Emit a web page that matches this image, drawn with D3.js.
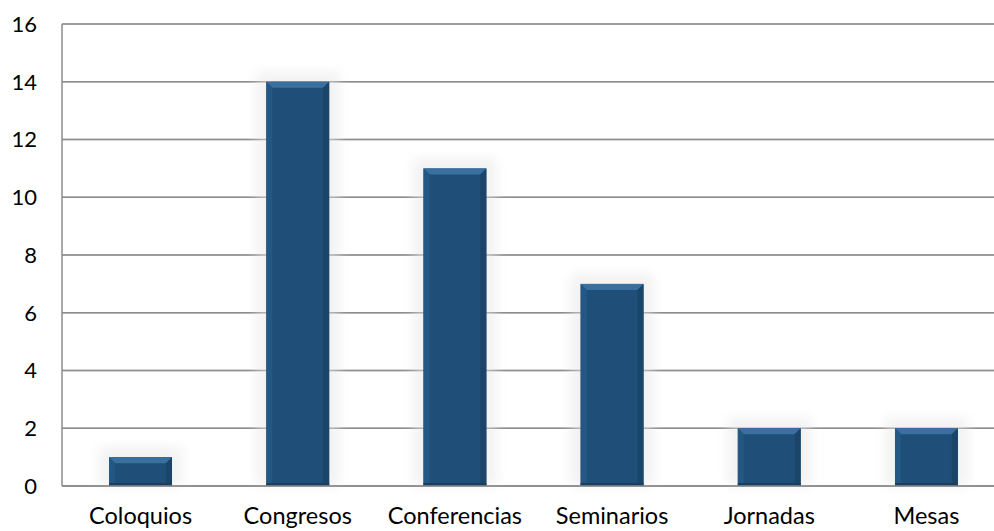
<!DOCTYPE html>
<html><head><meta charset="utf-8">
<script src="https://cdn.jsdelivr.net/npm/d3@7"></script>
<style>body{margin:0;background:#fff}svg{display:block}</style>
</head><body>
<svg id="c" width="994" height="531"></svg>
<script>
const categories = ["Coloquios","Congresos","Conferencias","Seminarios","Jornadas","Mesas"];
const values = [1,14,11,7,2,2];
const yTicks = [0,2,4,6,8,10,12,14,16];

const svg = d3.select("#c");
const m = {l:62, r:1005, t:24, b:486, view:994};
const x = d3.scaleBand().domain(categories).range([m.l, m.r]).paddingInner(0.6).paddingOuter(0.3);
const y = d3.scaleLinear().domain([0,16]).range([m.b, m.t]);
const font = "Lato,'Open Sans',sans-serif";

const defs = svg.append("defs");
const f = defs.append("filter").attr("id","glow").attr("x","-30%").attr("y","-30%").attr("width","160%").attr("height","160%");
f.append("feGaussianBlur").attr("stdDeviation",6);

svg.append("g").selectAll("line").data(yTicks).join("line")
  .attr("x1", m.l).attr("x2", m.view).attr("y1", d=>y(d)).attr("y2", d=>y(d))
  .attr("stroke","#8c8c8c").attr("stroke-width",1.5);
svg.append("line").attr("x1",m.l).attr("x2",m.l).attr("y1",m.t).attr("y2",m.b)
  .attr("stroke","#8c8c8c").attr("stroke-width",1.5);

svg.append("g").selectAll("rect").data(values).join("rect")
  .attr("x",(d,i)=>x(categories[i])-10).attr("y",d=>y(d)-10)
  .attr("width",x.bandwidth()+20).attr("height",d=>m.b-y(d)+10)
  .attr("fill","#f2f2f2").attr("filter","url(#glow)");
svg.append("g").selectAll("line").data(yTicks).join("line")
  .attr("x1", m.l).attr("x2", m.view).attr("y1", d=>y(d)).attr("y2", d=>y(d))
  .attr("stroke","#8c8c8c").attr("stroke-width",1.5).attr("opacity",0.6);

const bars = svg.append("g").selectAll("g").data(values).join("g");
const bev = 6;
bars.each(function(d,i){
  const g = d3.select(this);
  const x0 = x(categories[i]), w = x.bandwidth(), y0 = y(d), y1 = y(0);
  g.append("rect").attr("x",x0).attr("y",y0).attr("width",w).attr("height",y1-y0).attr("fill","#1f4e79");
  g.append("polygon").attr("points",[[x0,y0],[x0+w,y0],[x0+w-bev,y0+bev],[x0+bev,y0+bev]].join(" ")).attr("fill","#3a70a0");
  g.append("polygon").attr("points",[[x0,y0],[x0+bev,y0+bev],[x0+bev,y1-2],[x0,y1]].join(" ")).attr("fill","#245884");
  g.append("polygon").attr("points",[[x0+w,y0],[x0+w-bev,y0+bev],[x0+w-bev,y1-2],[x0+w,y1]].join(" ")).attr("fill","#1a4468");
  g.append("rect").attr("x",x0).attr("y",y1-3).attr("width",w).attr("height",3).attr("fill","#183e60");
});

svg.append("line").attr("x1",m.l).attr("x2",m.view).attr("y1",m.b).attr("y2",m.b)
  .attr("stroke","#8c8c8c").attr("stroke-width",1.5);

svg.append("g").selectAll("text").data(yTicks).join("text")
  .attr("x",37).attr("y",d=>y(d)).attr("dy","0.36em").attr("text-anchor","end")
  .attr("font-family",font).attr("font-size",22).attr("fill","#000").text(d=>d);
svg.append("g").selectAll("text").data(categories).join("text")
  .attr("x",d=>x(d)+x.bandwidth()/2).attr("y",524).attr("text-anchor","middle")
  .attr("font-family",font).attr("font-size",23.5).attr("fill","#000").text(d=>d);
</script>
</body></html>
